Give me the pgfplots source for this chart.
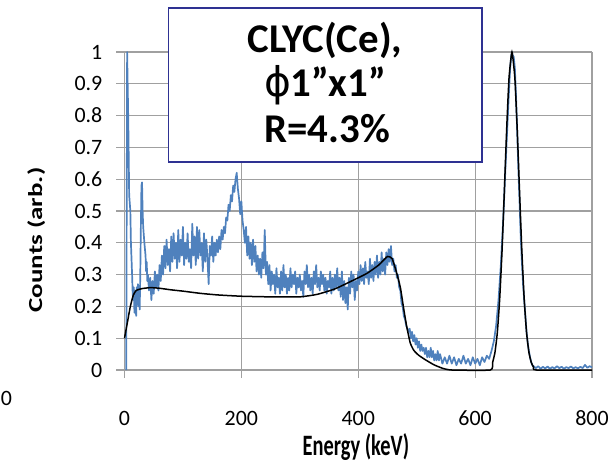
\documentclass[border=0pt]{standalone}
\usepackage{pgfplots}
\pgfplotsset{compat=1.18}
\usepackage{fontspec}
\setmainfont{Carlito}
\newfontfamily\dejavu{DejaVu Sans}
\definecolor{specblue}{HTML}{4F81BD}
\definecolor{gridgray}{HTML}{A0A0A0}
\definecolor{boxblue}{HTML}{2E3192}
\begin{document}
\begin{tikzpicture}
\begin{axis}[
  scale only axis, width=467.5bp, height=318bp,
  xmin=0, xmax=800, ymin=0, ymax=1,
  xtick={0,200,400,600,800},
  ytick={0,0.1,0.2,0.3,0.4,0.5,0.6,0.7,0.8,0.9,1},
  grid=major,
  major grid style={gridgray, line width=1.2bp},
  axis line style={draw=none},
  tick align=outside,
  major tick length=8bp,
  tick style={gridgray, line width=1.2bp},
  xtick pos=bottom, ytick pos=left,
  /pgf/number format/.cd, fixed, precision=1, assume math mode=true,
  /pgfplots/.cd,
  ticklabel style={font=\fontsize{22}{26}\selectfont, inner sep=0pt},
  yticklabel style={anchor=east, xshift=-14bp},
  xticklabel style={anchor=center, yshift=-40bp},
  clip=false,
  xlabel={\fontsize{20.5}{24}\selectfont\bfseries\scalebox{1}[1.45]{Energy (keV)}},
  ylabel={\fontsize{20}{24}\selectfont\bfseries\scalebox{1.35}[1]{Counts (arb.)}},
  xlabel style={at={(axis description cs:0.495,-0.242)}, anchor=center, inner sep=0pt},
  ylabel style={at={(axis description cs:-0.189,0.409)}, anchor=center, inner sep=0pt},
]
\addplot[specblue, line width=1.7bp, line join=round] coordinates {
(3,0) (4.5,1.0) (6.5,0.78) (8,0.55) (10,0.50) (11,0.40) (13,0.30) (14,0.24) (15,0.22) (16,0.26) (17,0.18) (18,0.25) (19,0.20) (20,0.17) (21,0.26) (22,0.22) (23,0.27) (24,0.20) (25,0.25) (26,0.19) (27,0.30) (28,0.45) (29,0.58) (30,0.59) (31,0.50) (32,0.45) (34,0.40) (36,0.36) (37,0.31) (38,0.34) (39,0.28)
(40,0.30) (42,0.25) (44,0.29) (46,0.22) (48,0.28) (50,0.24) (52,0.31) (54,0.26) (56,0.30) (58,0.25)
(60,0.33) (62,0.28) (64,0.36) (66,0.30) (68,0.39) (70,0.32) (72,0.41) (74,0.33) (76,0.38) (78,0.31)
(80,0.42) (82,0.34) (84,0.43) (86,0.35) (88,0.40) (90,0.32) (92,0.44) (94,0.34) (96,0.41) (98,0.36)
(100,0.45) (102,0.33) (104,0.40) (106,0.35) (108,0.43) (110,0.34) (112,0.38) (114,0.32) (116,0.46) (118,0.36)
(120,0.42) (122,0.33) (124,0.45) (126,0.35) (128,0.44) (130,0.36) (132,0.40) (134,0.31) (136,0.43) (138,0.34)
(140,0.41) (142,0.35) (144,0.27) (146,0.39) (148,0.36) (150,0.42) (152,0.34) (154,0.40) (156,0.36) (158,0.41)
(160,0.37) (162,0.42) (164,0.38) (166,0.44) (168,0.41) (170,0.45) (172,0.43) (174,0.48) (176,0.47) (178,0.52)
(180,0.50) (182,0.55) (184,0.53) (186,0.58) (188,0.56) (190,0.60) (192,0.62) (194,0.57) (196,0.54) (198,0.49)
(200,0.53) (202,0.47) (204,0.44) (206,0.40) (208,0.45) (210,0.36) (212,0.42) (214,0.35) (216,0.40) (218,0.33)
(220,0.41) (222,0.34) (224,0.39) (226,0.31) (228,0.36) (230,0.30) (232,0.35) (234,0.29) (236,0.37) (238,0.32)
(240,0.44) (242,0.30) (244,0.34) (246,0.27) (248,0.33) (250,0.25) (252,0.31) (254,0.27) (256,0.30) (258,0.24)
(260,0.32) (262,0.26) (264,0.29) (266,0.24) (268,0.31) (270,0.25) (272,0.33) (274,0.26) (276,0.30) (278,0.24)
(280,0.29) (282,0.25) (284,0.32) (286,0.26) (288,0.30) (290,0.27) (292,0.31) (294,0.24) (296,0.29) (298,0.26)
(300,0.30) (302,0.25) (304,0.28) (306,0.23) (308,0.31) (310,0.27) (312,0.33) (314,0.26) (316,0.30) (318,0.25)
(320,0.29) (322,0.24) (324,0.31) (326,0.27) (328,0.33) (330,0.26) (332,0.29) (334,0.25) (336,0.31) (338,0.27)
(340,0.30) (342,0.25) (344,0.29) (346,0.24) (348,0.28) (350,0.26) (352,0.31) (354,0.24) (356,0.29) (358,0.25)
(360,0.30) (362,0.26) (364,0.32) (366,0.25) (368,0.29) (370,0.23) (372,0.31) (374,0.22) (376,0.28) (378,0.21)
(380,0.26) (382,0.19) (384,0.29) (386,0.24) (388,0.31) (390,0.26) (392,0.30) (394,0.22) (396,0.28) (398,0.25)
(400,0.31) (402,0.27) (404,0.33) (406,0.28) (408,0.32) (410,0.27) (412,0.34) (414,0.29) (416,0.31) (418,0.27)
(420,0.35) (422,0.29) (424,0.33) (426,0.28) (428,0.34) (430,0.30) (432,0.36) (434,0.29) (436,0.34) (438,0.30)
(440,0.37) (442,0.31) (444,0.35) (446,0.30) (448,0.37) (450,0.33) (452,0.38) (454,0.34) (456,0.39) (458,0.33)
(460,0.35) (462,0.31) (464,0.33) (466,0.29) (468,0.30) (470,0.26) (472,0.25) (474,0.21) (476,0.20) (478,0.17)
(480,0.16) (482,0.14) (484,0.13) (486,0.12) (488,0.13) (490,0.10) (492,0.12) (494,0.09) (496,0.11) (498,0.08)
(500,0.10) (502,0.07) (504,0.09) (506,0.06) (508,0.08) (510,0.06) (512,0.07) (514,0.05) (516,0.07) (518,0.04)
(520,0.06) (522,0.04) (524,0.07) (526,0.04) (528,0.06) (530,0.03) (532,0.05) (534,0.03) (536,0.06) (538,0.03)
(540,0.05) (544,0.02) (548,0.04) (552,0.02) (556,0.045) (560,0.02) (564,0.04) (568,0.015) (572,0.035) (576,0.02)
(580,0.045) (584,0.02) (588,0.035) (592,0.015) (596,0.04) (600,0.02) (604,0.035) (608,0.015) (612,0.04) (616,0.025)
(620,0.045) (624,0.035) (628,0.06) (632,0.09) (636,0.14) (640,0.22) (644,0.33) (648,0.47) (652,0.64) (656,0.80)
(658,0.88) (660,0.95) (662,0.99) (663,1.0) (664,0.99) (666,0.985) (668,0.95) (670,0.86) (672,0.75) (674,0.63)
(676,0.53) (678,0.42) (680,0.34) (682,0.27) (684,0.22) (686,0.17) (688,0.12) (690,0.085) (692,0.06) (694,0.04)
(696,0.025) (698,0.015) (700,0.012) (704,0.006) (708,0.012) (712,0.004) (716,0.010) (720,0.005) (724,0.011) (728,0.004)
(732,0.009) (736,0.005) (740,0.012) (744,0.006) (748,0.010) (752,0.004) (756,0.009) (760,0.006) (764,0.011) (768,0.005)
(772,0.009) (776,0.005) (780,0.010) (784,0.006) (788,0.016) (792,0.007) (796,0.012) (800,0.008)
};
\addplot[black, line width=1.5bp, smooth, tension=0.3] coordinates {
(0,0.10) (5,0.15) (10,0.20) (15,0.235) (20,0.25) (30,0.256) (45,0.259) (60,0.257) (80,0.252) (100,0.248)
(130,0.241) (160,0.236) (200,0.232) (250,0.230) (300,0.230) (330,0.238) (360,0.255) (390,0.281) (415,0.304)
(435,0.33) (450,0.357) (458,0.35) (465,0.31) (472,0.26) (478,0.19) (483,0.136) (489,0.085) (495,0.062)
(503,0.047) (515,0.032) (530,0.016) (545,0.005) (560,0) (626,0) (630,0.024) (634,0.056) (638,0.118)
(642,0.222) (646,0.373) (650,0.562) (654,0.758) (658,0.918) (663,1.0) (668,0.918) (672,0.758) (676,0.562)
(680,0.373) (684,0.222) (688,0.118) (692,0.056) (696,0.024) (700,0.009) (705,0) (800,0)
};
\draw[boxblue, line width=1.6bp, fill=white] (axis cs:75,1.1385) rectangle (axis cs:611.5,0.6538);
\node[anchor=base, inner sep=0pt, font=\fontsize{41}{45}\selectfont\bfseries] at (axis cs:343,0.998) {CLYC(Ce),};
\node[anchor=base, inner sep=0pt, font=\fontsize{41}{45}\selectfont\bfseries] at (axis cs:343,0.859) {{\dejavu\mdseries ϕ}1”x1”};
\node[anchor=base, inner sep=0pt, font=\fontsize{41}{45}\selectfont\bfseries] at (axis cs:347,0.7145) {R=4.3\%};
\node[anchor=west, inner sep=0pt, font=\fontsize{22}{26}\selectfont] at (axis cs:-212,-0.091) {0};
\end{axis}
\pgfresetboundingbox
\path[use as bounding box] ([shift={(-124.5bp,-92bp)}]current axis.south west) rectangle ([shift={(18bp,52bp)}]current axis.north east);
\end{tikzpicture}
\end{document}
